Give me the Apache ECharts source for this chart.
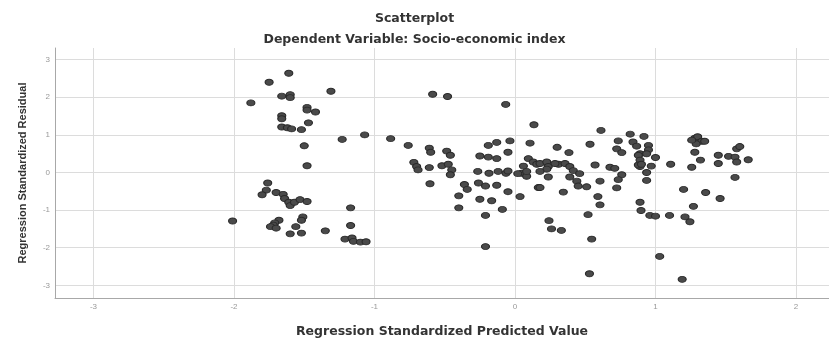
<!DOCTYPE html>
<html>
<head>
<meta charset="utf-8">
<script src="https://cdn.jsdelivr.net/npm/echarts@6/dist/echarts.min.js"></script>
<style>
  html, body { margin: 0; padding: 0; background: #ffffff; }
  #chart { width: 829px; height: 343px; }
</style>
</head>
<body>
<div id="chart"></div>
<script>
// Regression standardized predicted value (x) and standardized residual (y)
const predicted = [
  -1.61, -1.75, -1.31, -1.66, -1.60, -1.60, -1.88, -1.48, -1.48, -1.42,
  -1.66, -1.66, -1.47, -1.66, -1.62, -1.59, -1.52, -1.23, -1.07, -0.885,
  -1.50, -1.48, -1.76, -1.77, -1.80, -1.70, -1.65, -1.64, -1.61, -1.60,
  -1.57, -1.53, -1.48, -1.17, -2.01, -1.68, -1.71, -1.72, -1.74, -1.70,
  -1.51, -1.52, -1.56, -1.60, -1.52, -1.35, -1.17, -1.21, -1.16, -1.15,
  -1.10, -1.06,
  -0.76, -0.72, -0.70, -0.586, -0.48, -0.066, 0.135, -0.61, -0.60, -0.486,
  -0.46, -0.69, -0.61, -0.52, -0.475, -0.45, -0.46, -0.605, -0.40, -0.40,
  -0.36, -0.34, -0.21, -0.21, -0.265, -0.185, -0.12, -0.064, -0.05, -0.25,
  -0.19, -0.13, -0.19, -0.13, -0.036, -0.05, -0.26, -0.21, -0.13, -0.25,
  -0.166, -0.05, -0.09, 0.036, 0.107, 0.06, 0.095, 0.13, 0.155, 0.047,
  0.083, 0.083, 0.166, 0.02,
  0.612, 0.82, 0.30, 0.384, 0.534, 0.735, 0.724, 0.76, 0.84, 0.866,
  0.89, 0.178, 0.226, 0.237, 0.226, 0.178, 0.237, 0.31, 0.356, 0.39,
  0.415, 0.39, 0.46, 0.44, 0.45, 0.51, 0.57, 0.676, 0.71, 0.605,
  0.76, 0.735, 0.724, 0.178, 0.344, 0.59, 0.605, 0.89, 0.52, 0.918,
  0.95, 0.95, 0.937, 0.878, 0.89, 0.878, 0.90, 1.0, 0.97, 0.937,
  0.937, 0.89, 0.897, 0.96, 1.0, 1.10, 0.242, 0.26, 0.33, 0.546,
  1.03, 0.53, 0.285,
  1.28, 1.30, 1.33, 1.35, 1.29, 1.258, 1.28, 1.32, 1.258, 1.108,
  1.447, 1.447, 1.52, 1.566, 1.578, 1.578, 1.60, 1.66, 1.566, 1.20,
  1.357, 1.46, 1.27, 1.21, 1.245, 1.19
];
const residual = [
  2.64, 2.40, 2.16, 2.03, 2.07, 1.99, 1.85, 1.73, 1.66, 1.61,
  1.51, 1.43, 1.32, 1.21, 1.19, 1.16, 1.14, 0.88, 1.00, 0.90,
  0.71, 0.18, -0.28, -0.47, -0.59, -0.53, -0.58, -0.69, -0.79, -0.88,
  -0.79, -0.72, -0.77, -0.94, -1.29, -1.27, -1.34, -1.40, -1.44, -1.48,
  -1.18, -1.27, -1.44, -1.63, -1.61, -1.55, -1.41, -1.77, -1.74, -1.83,
  -1.85, -1.84,
  0.72, 0.27, 0.16, 2.08, 2.02, 1.81, 1.27, 0.65, 0.54, 0.57,
  0.46, 0.07, 0.13, 0.18, 0.22, 0.07, -0.06, -0.30, -0.62, -0.94,
  -0.32, -0.45, -1.14, -1.97, 0.03, -0.02, 0.03, -0.02, 0.04, 0.44,
  0.41, 0.37, 0.72, 0.80, 0.84, 0.54, -0.28, -0.36, -0.34, -0.71,
  -0.75, -0.51, -0.98, -0.64, 0.78, 0.17, 0.37, 0.28, 0.22, -0.02,
  -0.10, 0.03, -0.40, -0.03,
  1.12, 1.02, 0.67, 0.53, 0.75, 0.84, 0.63, 0.53, 0.81, 0.70,
  0.50, 0.24, 0.28, 0.16, 0.09, 0.03, -0.12, 0.22, 0.24, 0.16,
  0.05, -0.12, -0.03, -0.23, -0.36, -0.38, 0.20, 0.14, 0.11, -0.23,
  -0.06, -0.19, -0.41, -0.40, -0.52, -0.64, -0.86, 0.16, -1.12, 0.96,
  0.72, 0.60, 0.50, 0.46, 0.33, 0.20, 0.22, 0.40, 0.17, 0.0,
  -0.21, -0.79, -1.01, -1.14, -1.16, -1.14, -1.28, -1.50, -1.54, -1.77,
  -2.23, -2.69, 0.24,
  0.91, 0.95, 0.83, 0.83, 0.76, 0.86, 0.54, 0.33, 0.14, 0.22,
  0.46, 0.24, 0.43, 0.41, 0.28, 0.63, 0.69, 0.34, -0.13, -0.45,
  -0.53, -0.69, -0.90, -1.18, -1.31, -2.84
];
const xTicks = [-3, -2, -1, 0, 1, 2];
const yTicks = [-3, -2, -1, 0, 1, 2, 3];
const titleText = 'Scatterplot';
const subtitleText = 'Dependent Variable: Socio-economic index';
const xName = 'Regression Standardized Predicted Value';
const yName = 'Regression Standardized Residual';

const points = predicted.map((x, i) => [x, residual[i]]);

const chart = echarts.init(document.getElementById('chart'), null, { renderer: 'canvas' });
const gridColor = '#dcdcdc';
chart.setOption({
  backgroundColor: '#ffffff',
  animation: false,
  title: [
    { text: titleText, left: 'center', top: 7,
      textStyle: { fontFamily: 'DejaVu Sans', fontWeight: 'bold', fontSize: 12.5, color: '#333' } },
    { text: subtitleText, left: 'center', top: 28,
      textStyle: { fontFamily: 'DejaVu Sans', fontWeight: 'bold', fontSize: 12.5, color: '#333' } }
  ],
  grid: { left: 55, right: 0, top: 48, bottom: 38, containLabel: false },
  xAxis: {
    type: 'value', min: -3.274, max: 2.235,
    name: xName, nameLocation: 'middle', nameGap: 27,
    nameTextStyle: { fontFamily: 'DejaVu Sans', fontWeight: 'bold', fontSize: 12.5, color: '#333' },
    axisLine: { show: true, onZero: false, lineStyle: { color: '#a8a8a8', width: 1 } },
    axisTick: { show: false, customValues: xTicks },
    axisLabel: { customValues: xTicks, color: '#999', fontSize: 8, margin: 5, fontFamily: 'Liberation Sans' },
    splitLine: { show: true, lineStyle: { color: gridColor, width: 1 } }
  },
  yAxis: {
    type: 'value', min: -3.336, max: 3.31,
    name: yName, nameLocation: 'middle', nameGap: 27, nameRotate: 90,
    nameTextStyle: { fontFamily: 'Liberation Sans', fontWeight: 'bold', fontSize: 11, color: '#333' },
    axisLine: { show: true, onZero: false, lineStyle: { color: '#a8a8a8', width: 1 } },
    axisTick: { show: false, customValues: yTicks },
    axisLabel: { customValues: yTicks, color: '#999', fontSize: 8, margin: 5, fontFamily: 'Liberation Sans' },
    splitLine: { show: true, lineStyle: { color: gridColor, width: 1 } }
  },
  series: [{
    type: 'scatter',
    data: points,
    symbol: 'circle',
    symbolSize: [8, 6],
    itemStyle: { color: '#4a4a4a', borderColor: '#2a2a2a', borderWidth: 1, opacity: 1 }
  }]
});
</script>
</body>
</html>
